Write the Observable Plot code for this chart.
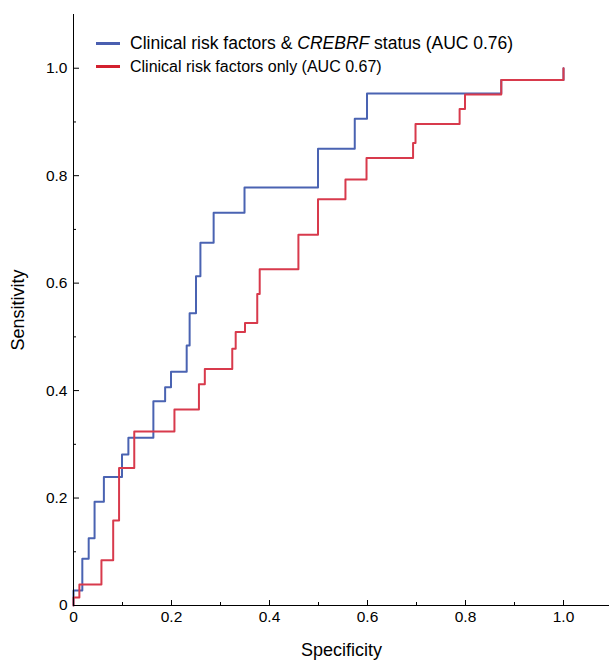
<!DOCTYPE html>
<html><head><meta charset="utf-8">
<script src="https://cdn.jsdelivr.net/npm/d3@7"></script>
<script src="https://cdn.jsdelivr.net/npm/@observablehq/plot@0.6"></script>
<style>
body{margin:0;background:#fff;font-family:"Liberation Sans",Arial,Helvetica,sans-serif;}
#wrap{position:relative;width:609px;height:660px;}
.legend{position:absolute;left:96px;top:32px;font-size:16px;color:#000;}
.item{display:flex;align-items:center;height:23px;white-space:nowrap;}
.item.first{font-size:17.5px;}
.sw{width:24px;height:3px;margin-right:10px;}
</style></head><body><div id="wrap"></div>
<script>
const seriesNames = ["Clinical risk factors & CREBRF status (AUC 0.76)", "Clinical risk factors only (AUC 0.67)"];
const seriesColors = ["#4a63b2", "#d83a4c"];
const legendColors = ["#4a5fb0", "#d3202f"];

// Blue: clinical risk factors & CREBRF status
const blueSpec = [0, 0, 0.018, 0.031, 0.043, 0.062, 0.099, 0.112, 0.163, 0.187, 0.199, 0.231, 0.237, 0.250, 0.259, 0.286, 0.349, 0.499, 0.574, 0.599, 0.873, 1.0];
const blueSens = [0, 0.028, 0.087, 0.125, 0.193, 0.239, 0.281, 0.312, 0.380, 0.406, 0.435, 0.484, 0.544, 0.613, 0.675, 0.731, 0.778, 0.850, 0.906, 0.953, 0.978, 1.0];

// Red: clinical risk factors only
const redSpec = [0, 0, 0.012, 0.057, 0.081, 0.093, 0.124, 0.206, 0.256, 0.268, 0.324, 0.331, 0.350, 0.375, 0.380, 0.459, 0.499, 0.555, 0.598, 0.693, 0.698, 0.788, 0.799, 0.873, 1.0];
const redSens = [0, 0.015, 0.039, 0.084, 0.158, 0.256, 0.324, 0.365, 0.412, 0.440, 0.478, 0.509, 0.526, 0.580, 0.626, 0.690, 0.756, 0.793, 0.833, 0.861, 0.896, 0.924, 0.951, 0.978, 1.0];

const majorTicks = [0, 0.2, 0.4, 0.6, 0.8, 1.0];
const minorTicks = [0.1, 0.3, 0.5, 0.7, 0.9];
const tickFmt = d => d === 0 ? "0" : d.toFixed(1);

const rows = (xs, ys, s) => xs.map((x, i) => ({spec: x, sens: ys[i], series: s}));
const blueRows = rows(blueSpec, blueSens, seriesNames[0]);
const redRows = rows(redSpec, redSens, seriesNames[1]);

const chart = Plot.plot({
  width: 609, height: 660,
  marginLeft: 73, marginRight: 0, marginTop: 14, marginBottom: 55,
  x: {domain: [0, 1.1], range: [73, 612]},
  y: {domain: [0, 1.1], range: [605, 14]},
  style: {fontFamily: "Liberation Sans, Arial, Helvetica, sans-serif", fontSize: "15.5px", color: "#000", overflow: "visible", background: "#fff"},
  marks: [
    Plot.ruleX(majorTicks, {y1: 0, y2: 0, insetTop: -5, stroke: "#000"}),
    Plot.ruleX(minorTicks, {y1: 0, y2: 0, insetTop: -3, stroke: "#000"}),
    Plot.ruleY(majorTicks, {x1: 0, x2: 0, insetRight: -6, stroke: "#000"}),
    Plot.ruleY(minorTicks, {x1: 0, x2: 0, insetRight: -3, stroke: "#000"}),
    Plot.axisX({ticks: majorTicks, tickFormat: tickFmt, tickSize: 0, tickPadding: 5, label: null, fontSize: 15.5}),
    Plot.axisY({ticks: majorTicks, tickFormat: tickFmt, tickSize: 0, tickPadding: 6, label: null, fontSize: 15.5}),
    Plot.line(blueRows, {x: "spec", y: "sens", curve: "step-after", stroke: seriesColors[0], strokeWidth: 2}),
    Plot.line(redRows, {x: "spec", y: "sens", curve: "step-after", stroke: seriesColors[1], strokeWidth: 2}),
    Plot.ruleX([0], {stroke: "#000", strokeWidth: 1}),
    Plot.ruleY([0], {stroke: "#000", strokeWidth: 1}),
    Plot.text(["Specificity"], {frameAnchor: "bottom", dy: 45, lineAnchor: "middle", textAnchor: "middle", fontSize: 18}),
    Plot.text(["Sensitivity"], {frameAnchor: "left", dx: -55, rotate: -90, lineAnchor: "middle", textAnchor: "middle", fontSize: 18})
  ]
});

const wrap = document.getElementById("wrap");
wrap.appendChild(chart);
const legend = document.createElement("div");
legend.className = "legend";
legend.innerHTML = `
<div class="item first"><span class="sw" style="background:${legendColors[0]}"></span><span>Clinical risk factors &amp; <i>CREBRF</i> status (AUC 0.76)</span></div>
<div class="item"><span class="sw" style="background:${legendColors[1]}"></span><span>${seriesNames[1]}</span></div>`;
wrap.appendChild(legend);
</script>
</body></html>
